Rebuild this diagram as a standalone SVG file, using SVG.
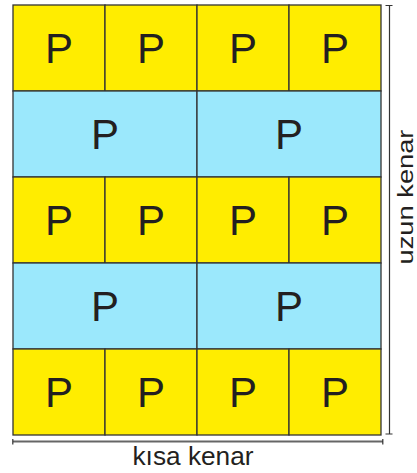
<svg xmlns="http://www.w3.org/2000/svg" width="417" height="473" viewBox="0 0 417 473">
<style>
.y{fill:#FFED00;stroke:#333;stroke-width:1.3}
.c{fill:#9BE8FC;stroke:#333;stroke-width:1.3}
.p{font-family:"Liberation Sans",Arial,sans-serif;font-size:42px;fill:#231F20;text-anchor:middle}
.l{font-family:"Liberation Sans",Arial,sans-serif;fill:#231F20;text-anchor:middle}
.dim{stroke:#333;stroke-width:1.2;fill:none}
.dim2{stroke:#666;stroke-width:2;fill:none}
</style>
<rect width="417" height="473" fill="#fff"/>
<g id="row1">
<rect class="y" x="13" y="5" width="92" height="86"/><rect class="y" x="105" y="5" width="92" height="86"/><rect class="y" x="197" y="5" width="92" height="86"/><rect class="y" x="289" y="5" width="92" height="86"/>
<text class="p" x="59" y="63">P</text><text class="p" x="151" y="63">P</text><text class="p" x="243" y="63">P</text><text class="p" x="335" y="63">P</text>
</g>
<g id="row2">
<rect class="c" x="13" y="91" width="184" height="86"/><rect class="c" x="197" y="91" width="184" height="86"/>
<text class="p" x="105" y="149">P</text><text class="p" x="289" y="149">P</text>
</g>
<g id="row3">
<rect class="y" x="13" y="177" width="92" height="86"/><rect class="y" x="105" y="177" width="92" height="86"/><rect class="y" x="197" y="177" width="92" height="86"/><rect class="y" x="289" y="177" width="92" height="86"/>
<text class="p" x="59" y="235">P</text><text class="p" x="151" y="235">P</text><text class="p" x="243" y="235">P</text><text class="p" x="335" y="235">P</text>
</g>
<g id="row4">
<rect class="c" x="13" y="263" width="184" height="86"/><rect class="c" x="197" y="263" width="184" height="86"/>
<text class="p" x="105" y="321">P</text><text class="p" x="289" y="321">P</text>
</g>
<g id="row5">
<rect class="y" x="13" y="349" width="92" height="86"/><rect class="y" x="105" y="349" width="92" height="86"/><rect class="y" x="197" y="349" width="92" height="86"/><rect class="y" x="289" y="349" width="92" height="86"/>
<text class="p" x="59" y="407">P</text><text class="p" x="151" y="407">P</text><text class="p" x="243" y="407">P</text><text class="p" x="335" y="407">P</text>
</g>
<g id="connectors">
<path class="dim" d="M389.5 5V434M385.5 5.5H392.5M385.5 434H392.5"/>
<path class="dim2" d="M13 441.5H383"/>
<path class="dim" d="M12.8 439V444.5M382.8 439V444.5"/>
</g>
<g id="labels">
<text class="l" transform="translate(193 465) scale(1.05 1)" font-size="25">kısa kenar</text>
<text class="l" transform="translate(412.5 197) rotate(-90) scale(1.24 1)" font-size="22">uzun kenar</text>
</g>
</svg>
